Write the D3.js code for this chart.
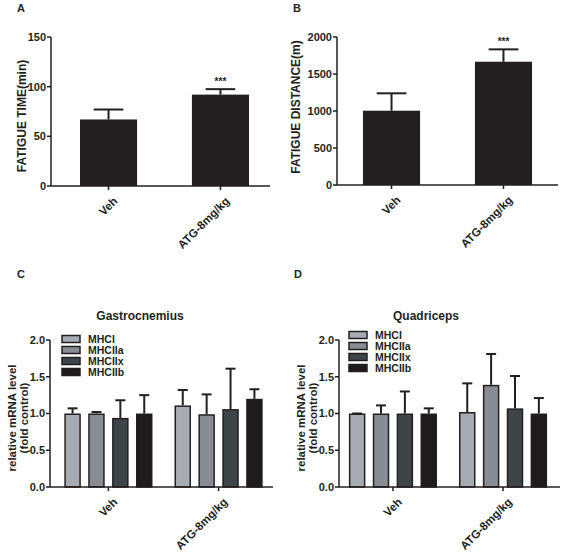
<!DOCTYPE html>
<html><head><meta charset="utf-8">
<script src="https://cdn.jsdelivr.net/npm/d3@7"></script>
<style>body{margin:0;background:#fff}svg{display:block}text{font-family:"Liberation Sans",Arial,sans-serif;font-weight:bold;fill:#231f20}</style>
</head><body>
<svg id="c" width="563" height="553"></svg>
<script>
const groups = ["Veh", "ATG-8mg/kg"];
const fatigueTime = [67, 92];
const fatigueTimeErr = [77, 97.5];
const fatigueDist = [1004, 1666];
const fatigueDistErr = [1239, 1833];
const mhcSeries = ["MHCI", "MHCIIa", "MHCIIx", "MHCIIb"];
const mhcColors = ["#a7abb3", "#888c93", "#3e4548", "#1f1b1c"];
const gastroVals = [[1.00, 1.00, 0.94, 1.00], [1.11, 0.99, 1.06, 1.20]];
const gastroErr = [[1.07, 1.02, 1.18, 1.25], [1.32, 1.26, 1.61, 1.33]];
const quadVals = [[1.00, 1.00, 1.00, 1.00], [1.02, 1.39, 1.07, 1.00]];
const quadErr = [[1.00, 1.11, 1.30, 1.07], [1.41, 1.81, 1.51, 1.21]];
const ticksA = [0, 50, 100, 150];
const ticksB = [0, 500, 1000, 1500, 2000];
const ticksCD = [0, 0.5, 1.0, 1.5, 2.0];

const svg = d3.select("#c");
const ink = "#231f20";

function axes(g, x0, x1, y, ticks, fmt, xCenters) {
  g.append("line").attr("x1", x0).attr("x2", x0).attr("y1", y.range()[0]).attr("y2", y.range()[1]).attr("stroke", ink).attr("stroke-width", 1.5);
  ticks.forEach(t => {
    g.append("line").attr("x1", x0 - 4).attr("x2", x0).attr("y1", y(t)).attr("y2", y(t)).attr("stroke", ink).attr("stroke-width", 1.5);
    g.append("text").attr("x", x0 - 5).attr("y", y(t)).attr("dy", "0.36em").attr("text-anchor", "end").attr("font-size", 11).text(fmt(t));
  });
  const y0 = y.range()[0];
  g.append("line").attr("x1", x0).attr("x2", x1).attr("y1", y0).attr("y2", y0).attr("stroke", ink).attr("stroke-width", 1.5);
  xCenters.forEach(([c, lab]) => {
    g.append("line").attr("x1", c).attr("x2", c).attr("y1", y0).attr("y2", y0 + 4).attr("stroke", ink).attr("stroke-width", 1.5);
    g.append("text").attr("transform", `translate(${c + 4},${y0 + 10}) rotate(-45)`).attr("text-anchor", "end").attr("dy", "0.7em").attr("font-size", 11.5).text(lab);
  });
}

function simplePanel(opt) {
  const g = svg.append("g");
  const x = d3.scaleBand().domain(groups).range(opt.xr).paddingInner(0.49).paddingOuter(opt.po);
  const y = d3.scaleLinear().domain(opt.domain).range(opt.yr);
  const bw = x.bandwidth();
  groups.forEach((k, i) => {
    const cx = x(k) + bw / 2;
    g.append("line").attr("x1", cx).attr("x2", cx).attr("y1", y(opt.vals[i])).attr("y2", y(opt.err[i])).attr("stroke", ink).attr("stroke-width", 2);
    g.append("line").attr("x1", cx - bw * 0.26).attr("x2", cx + bw * 0.26).attr("y1", y(opt.err[i])).attr("y2", y(opt.err[i])).attr("stroke", ink).attr("stroke-width", 2);
    g.append("rect").attr("x", x(k)).attr("width", bw).attr("y", y(opt.vals[i])).attr("height", y(0) - y(opt.vals[i])).attr("fill", ink);
  });
  axes(g, opt.xr[0], opt.axisEnd, y, opt.ticks, d => d3.format("d")(d), groups.map(k => [x(k) + bw / 2, k]));
  const cx1 = x(groups[1]) + bw / 2;
  g.append("text").attr("x", cx1).attr("y", y(opt.err[1]) - 4).attr("text-anchor", "middle").attr("font-size", 10).text("***");
  g.append("text").attr("transform", `translate(${opt.labX},${opt.labY}) rotate(-90)`).attr("text-anchor", "middle").attr("font-size", 12).text(opt.ylab);
  g.append("text").attr("x", opt.letter[1]).attr("y", opt.letter[2]).attr("font-size", 11).text(opt.letter[0]);
}

simplePanel({xr: [51, 278], po: 0.259, axisEnd: 270, yr: [186, 37], domain: [0, 150], vals: fatigueTime, err: fatigueTimeErr, ticks: ticksA, ylab: "FATIGUE TIME(min)", labX: 26, labY: 116, letter: ["A", 17, 12]});
simplePanel({xr: [337, 558], po: 0.232, axisEnd: 558, yr: [185, 37], domain: [0, 2000], vals: fatigueDist, err: fatigueDistErr, ticks: ticksB, ylab: "FATIGUE DISTANCE(m)", labX: 300, labY: 107, letter: ["B", 293, 12]});

function groupedPanel(opt) {
  const g = svg.append("g");
  const x0 = d3.scaleBand().domain(groups).range([opt.ax, opt.xEnd]).paddingInner(0.2).paddingOuter(opt.po);
  const x1 = d3.scaleBand().domain(mhcSeries).range([0, x0.bandwidth()]).paddingInner(0.31).paddingOuter(0);
  const y = d3.scaleLinear().domain([0, 2]).range([487, 340]);
  const bw = x1.bandwidth();
  groups.forEach((k, gi) => {
    mhcSeries.forEach((s, si) => {
      const bx = x0(k) + x1(s);
      const cx = bx + bw / 2;
      const v = opt.vals[gi][si], e = opt.err[gi][si];
      g.append("line").attr("x1", cx).attr("x2", cx).attr("y1", y(v)).attr("y2", y(e)).attr("stroke", ink).attr("stroke-width", 2);
      g.append("line").attr("x1", cx - 5).attr("x2", cx + 5).attr("y1", y(e)).attr("y2", y(e)).attr("stroke", ink).attr("stroke-width", 2);
      g.append("rect").attr("x", bx + 0.75).attr("width", bw - 1.5).attr("y", y(v) + 0.75).attr("height", y(0) - y(v) - 0.75).attr("fill", mhcColors[si]).attr("stroke", ink).attr("stroke-width", 1.5);
    });
  });
  axes(g, opt.ax, opt.axisEnd, y, ticksCD, d => d3.format(".1f")(d), groups.map(k => [x0(k) + x0.bandwidth() / 2, k]));
  mhcSeries.forEach((s, si) => {
    const ly = opt.legY + si * 11;
    g.append("rect").attr("x", opt.legX).attr("y", ly - 3.5).attr("width", 18).attr("height", 7).attr("fill", mhcColors[si]).attr("stroke", ink).attr("stroke-width", 1.5);
    g.append("text").attr("x", opt.legX + 26).attr("y", ly).attr("dy", "0.36em").attr("font-size", 10.5).text(s);
  });
  g.append("text").attr("x", opt.titleX).attr("y", 320).attr("text-anchor", "middle").attr("font-size", 12).text(opt.title);
  g.append("text").attr("transform", `translate(${opt.labX},418) rotate(-90)`).attr("text-anchor", "middle").attr("font-size", 11.5)
    .selectAll("tspan").data(["relative mRNA level", "(fold control)"]).join("tspan")
    .attr("x", 0).attr("dy", (d, i) => i === 0 ? 0 : "1.05em").text(d => d);
  g.append("text").attr("x", opt.letter[1]).attr("y", 278).attr("font-size", 11).text(opt.letter[0]);
}

groupedPanel({ax: 50, xEnd: 277, po: 0.13, axisEnd: 273, vals: gastroVals, err: gastroErr, legX: 62, legY: 339, title: "Gastrocnemius", titleX: 140, labX: 16, letter: ["C", 17]});
groupedPanel({ax: 339, xEnd: 557, po: 0.09, axisEnd: 560, vals: quadVals, err: quadErr, legX: 349, legY: 335, title: "Quadriceps", titleX: 426, labX: 305, letter: ["D", 294]});
</script>
</body></html>
